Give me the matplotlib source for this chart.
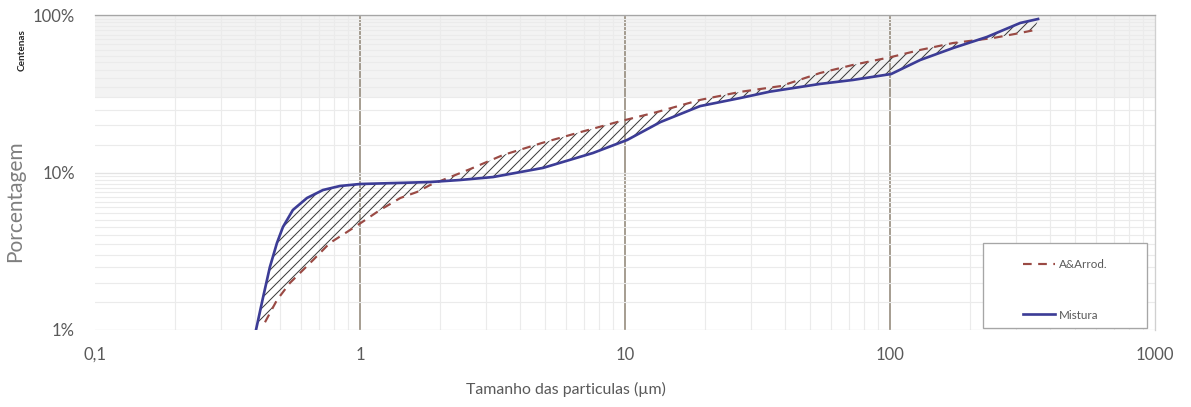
import matplotlib
matplotlib.use("Agg")
import numpy as np
import matplotlib.pyplot as plt
from matplotlib.ticker import FixedLocator, LogLocator, FuncFormatter, NullFormatter
from matplotlib.patches import Rectangle

#Data (particle size in um, cumulative %)
mistX = [0.405, 0.431, 0.457, 0.486, 0.512, 0.558, 0.631, 0.725, 0.840, 1.0, 1.38, 1.84, 2.38, 3.18,
         4.91, 7.57, 10.2, 13.6, 19.2, 27.2, 35.2, 54.4, 72.5, 101, 130, 173, 232, 310, 362]
mistY = [1.0, 1.62, 2.51, 3.57, 4.51, 5.78, 6.89, 7.74, 8.21, 8.45, 8.58, 8.70, 8.96, 9.36,
         10.7, 13.3, 16.1, 20.9, 26.4, 29.7, 32.6, 36.5, 38.7, 42.2, 51.8, 61.7, 72.5, 89.0, 94.3]
arrX = [0.438, 0.486, 0.544, 0.665, 0.770, 0.893, 1.02, 1.19, 1.42, 1.64, 1.84, 2.19, 2.60, 3.46,
        4.86, 6.59, 9.33, 13.2, 19.2, 27.2, 38.8, 54.4, 72.5, 101, 130, 173, 245, 310, 352]
arrY = [1.12, 1.55, 1.99, 2.78, 3.57, 4.19, 4.85, 5.78, 6.89, 7.52, 8.33, 9.36, 10.5, 12.9,
        15.4, 17.8, 20.9, 24.2, 28.9, 32.5, 35.4, 42.8, 48.2, 54.1, 60.0, 66.4, 71.4, 76.9, 80.3]
xTicks = [0.1, 1, 10, 100, 1000]
xTickLabels = ["0,1", "1", "10", "100", "1000"]
yTicks = [1, 10, 100]
yTickLabels = ["1%", "10%", "100%"]

#Colors
blue = "#3c3c96"
brown = "#9a4a44"
gray = "#595959"

plt.rcParams["font.family"] = ["Lato", "DejaVu Sans"]
plt.rcParams["hatch.linewidth"] = 0.6

fig = plt.figure(figsize=(1191 / 120, 407 / 120), dpi=120)
ax = fig.add_axes([95 / 1191, 77 / 407, 1060 / 1191, 315 / 407])
ax.set_xscale("log")
ax.set_yscale("log")
ax.set_xlim(0.1, 1000)
ax.set_ylim(1, 100)

#Shaded top band + grid
ax.axhspan(30, 100, color="#f3f3f3", zorder=0, lw=0)
ax.xaxis.set_minor_locator(LogLocator(base=10, subs=range(2, 10)))
ax.yaxis.set_minor_locator(LogLocator(base=10, subs=np.arange(1.5, 10, 0.5)))
ax.xaxis.set_minor_formatter(NullFormatter())
ax.yaxis.set_minor_formatter(NullFormatter())
ax.grid(which="minor", color="#ebebeb", lw=0.7, zorder=0)
ax.grid(which="major", axis="y", color="#e3e3e3", lw=0.8, zorder=0)
for xv in xTicks[1:-1]:
    ax.axvline(xv, color="#8a8070", lw=0.9, zorder=1)

#Hatched area between the two curves
ax.fill(np.concatenate([mistX, arrX[::-1]]),
        np.concatenate([mistY, arrY[::-1]]),
        facecolor="none", edgecolor="#3a3a3a", hatch="////", lw=0, zorder=2)

#Curves
ax.plot(arrX, arrY, color=brown, lw=1.3, linestyle=(0, (4, 3)), label="A&Arrod.", zorder=3)
ax.plot(mistX, mistY, color=blue, lw=1.6, label="Mistura", zorder=4)

#Ticks
ax.xaxis.set_major_locator(FixedLocator(xTicks))
ax.yaxis.set_major_locator(FixedLocator(yTicks))
ax.xaxis.set_major_formatter(FuncFormatter(lambda v, p: xTickLabels[xTicks.index(v)] if v in xTicks else ""))
ax.yaxis.set_major_formatter(FuncFormatter(lambda v, p: yTickLabels[yTicks.index(v)] if v in yTicks else ""))
ax.tick_params(which="both", length=0, labelsize=10, labelcolor=gray)
ax.tick_params(axis="x", pad=10)
ax.tick_params(axis="y", pad=12)

for side in ["left", "bottom"]:
    ax.spines[side].set_visible(False)
ax.spines["top"].set_color("#a6a6a6")
ax.spines["right"].set_color("#d0d0d0")

#Labels
ax.set_xlabel("Tamanho das particulas (µm)", fontsize=9.5, color=gray)
ax.xaxis.set_label_coords(0.444, -0.165)
ax.set_ylabel("Porcentagem", fontsize=12.5, color="#7f7f7f")
ax.yaxis.set_label_coords(-0.066, 0.41)
fig.text(22 / 1191, 1 - 50 / 407, "Centenas", rotation=90, fontsize=6, fontweight="bold",
         color="#262626", ha="center", va="center")

#Legend with its own box
ax.add_patch(Rectangle((0.8377, 0.006), 0.1547, 0.27, transform=ax.transAxes, facecolor="white",
                       edgecolor="#a6a6a6", lw=0.8, zorder=5))
leg = ax.legend(loc="center", bbox_to_anchor=(0.915, 0.128), frameon=False, fontsize=7,
                handlelength=2.8, handletextpad=0.3, labelspacing=3.4)
leg.set_zorder(6)
for t in leg.get_texts():
    t.set_color(gray)

plt.savefig("out.png", dpi=120)
